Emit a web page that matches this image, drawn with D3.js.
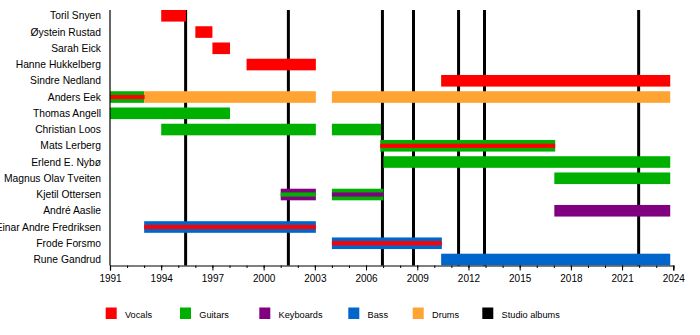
<!DOCTYPE html>
<html><head><meta charset="utf-8">
<script src="https://cdn.jsdelivr.net/npm/d3@7"></script>
<style>
body{margin:0;background:#fff;}
svg{display:block;font-family:"Liberation Sans",Arial,Helvetica,sans-serif;}
</style></head>
<body><svg id="c" width="700" height="335"></svg>
<script>
const members = ["Toril Snyen","Øystein Rustad","Sarah Eick","Hanne Hukkelberg","Sindre Nedland","Anders Eek","Thomas Angell","Christian Loos","Mats Lerberg","Erlend E. Nybø","Magnus Olav Tveiten","Kjetil Ottersen","André Aaslie","Einar Andre Fredriksen","Frode Forsmo","Rune Gandrud"];
const roles = ["Vocals","Guitars","Keyboards","Bass","Drums","Studio albums"];
const roleColors = ["#ff0000","#00b000","#800080","#0066cc","#ffa333","#000000"];
// main bars: [member, role, start, end]
const periods = [
  ["Toril Snyen","Vocals",1994.0,1995.45],
  ["Øystein Rustad","Vocals",1996.0,1997.0],
  ["Sarah Eick","Vocals",1997.0,1998.03],
  ["Hanne Hukkelberg","Vocals",1999.0,2003.06],
  ["Sindre Nedland","Vocals",2010.4,2023.82],
  ["Anders Eek","Guitars",1991.0,1993.0],
  ["Anders Eek","Drums",1993.0,2003.06],
  ["Anders Eek","Drums",2004.0,2023.82],
  ["Thomas Angell","Guitars",1991.0,1998.03],
  ["Christian Loos","Guitars",1994.0,2003.06],
  ["Christian Loos","Guitars",2004.0,2006.88],
  ["Mats Lerberg","Guitars",2006.83,2017.08],
  ["Erlend E. Nybø","Guitars",2007.02,2023.82],
  ["Magnus Olav Tveiten","Guitars",2017.03,2023.82],
  ["Kjetil Ottersen","Keyboards",2001.0,2003.06],
  ["Kjetil Ottersen","Guitars",2004.0,2007.02],
  ["André Aaslie","Keyboards",2017.03,2023.82],
  ["Einar Andre Fredriksen","Bass",1993.0,2003.06],
  ["Frode Forsmo","Bass",2004.0,2010.44],
  ["Rune Gandrud","Bass",2010.4,2023.82]
];
// secondary roles drawn as thin stripes
const stripes = [
  ["Anders Eek","Vocals",1991.0,1993.03],
  ["Mats Lerberg","Vocals",2006.83,2017.08],
  ["Kjetil Ottersen","Guitars",2001.0,2003.06],
  ["Kjetil Ottersen","Keyboards",2004.0,2007.02],
  ["Einar Andre Fredriksen","Vocals",1993.0,2003.06],
  ["Frode Forsmo","Vocals",2004.0,2010.44]
];
const albums = [1995.43,2001.45,2006.96,2008.78,2011.42,2012.94,2021.97];
const tickYears = [1991,1994,1997,2000,2003,2006,2009,2012,2015,2018,2021,2024];

const color = d3.scaleOrdinal().domain(roles).range(roleColors);
const svg = d3.select("#c");
const x = d3.scaleLinear().domain([1991,2024]).range([110,673.3]);
const y = d3.scalePoint().domain(members).range([15.8,259.5]);
const plotTop = 10, axisY = 265.5, barH = 11.6, stripeH = 4.2;

// album lines
svg.append("g").selectAll("line").data(albums).join("line")
  .attr("x1",d=>x(d)).attr("x2",d=>x(d)).attr("y1",plotTop).attr("y2",axisY)
  .attr("stroke","#000").attr("stroke-width",3);

// bars
svg.append("g").selectAll("rect").data(periods).join("rect")
  .attr("x",d=>x(d[2])).attr("width",d=>x(d[3])-x(d[2]))
  .attr("y",d=>y(d[0])-barH/2).attr("height",barH)
  .attr("fill",d=>color(d[1]));
svg.append("g").selectAll("rect").data(stripes).join("rect")
  .attr("x",d=>x(d[2])).attr("width",d=>x(d[3])-x(d[2]))
  .attr("y",d=>y(d[0])-stripeH/2).attr("height",stripeH)
  .attr("fill",d=>color(d[1]));

// y axis line
svg.append("line").attr("x1",x(1991)).attr("x2",x(1991)).attr("y1",plotTop).attr("y2",axisY)
  .attr("stroke","#000").attr("stroke-width",1.2);
// member labels
svg.append("g").selectAll("text").data(members).join("text")
  .attr("x",101).attr("y",d=>y(d)).attr("dy","0.35em")
  .attr("text-anchor","end").attr("font-size",10.3).attr("fill","#000").text(d=>d);

// x axis
const minorG = svg.append("g").attr("transform",`translate(0,${axisY})`)
  .call(d3.axisBottom(x).tickValues(d3.range(1991,2025)).tickSize(2.5).tickFormat(""));
minorG.select(".domain").remove();
minorG.selectAll("line").attr("stroke","#000");
const ax = svg.append("g").attr("transform",`translate(0,${axisY})`)
  .call(d3.axisBottom(x).tickValues(tickYears).tickSize(5).tickPadding(4).tickFormat(d3.format("d")));
ax.select(".domain").attr("stroke","#000").attr("stroke-width",1.2);
ax.selectAll("line").attr("stroke","#000");
ax.selectAll("text").attr("font-size",10).attr("font-family","'Liberation Sans',Arial,sans-serif").attr("fill","#000");

// legend (layout positions of the swatches)
const legendX = [105.7,180,259.3,348.3,412.7,482.3];
const leg = svg.append("g").attr("font-size",9.2);
const items = leg.selectAll("g").data(roles).join("g")
  .attr("transform",(d,i)=>`translate(${legendX[i]},0)`);
items.append("rect").attr("x",0).attr("y",307.5).attr("width",11).attr("height",11.5).attr("fill",d=>color(d));
items.append("text").attr("x",19.3).attr("y",318.3).attr("fill","#000").text(d=>d);
</script></body></html>
